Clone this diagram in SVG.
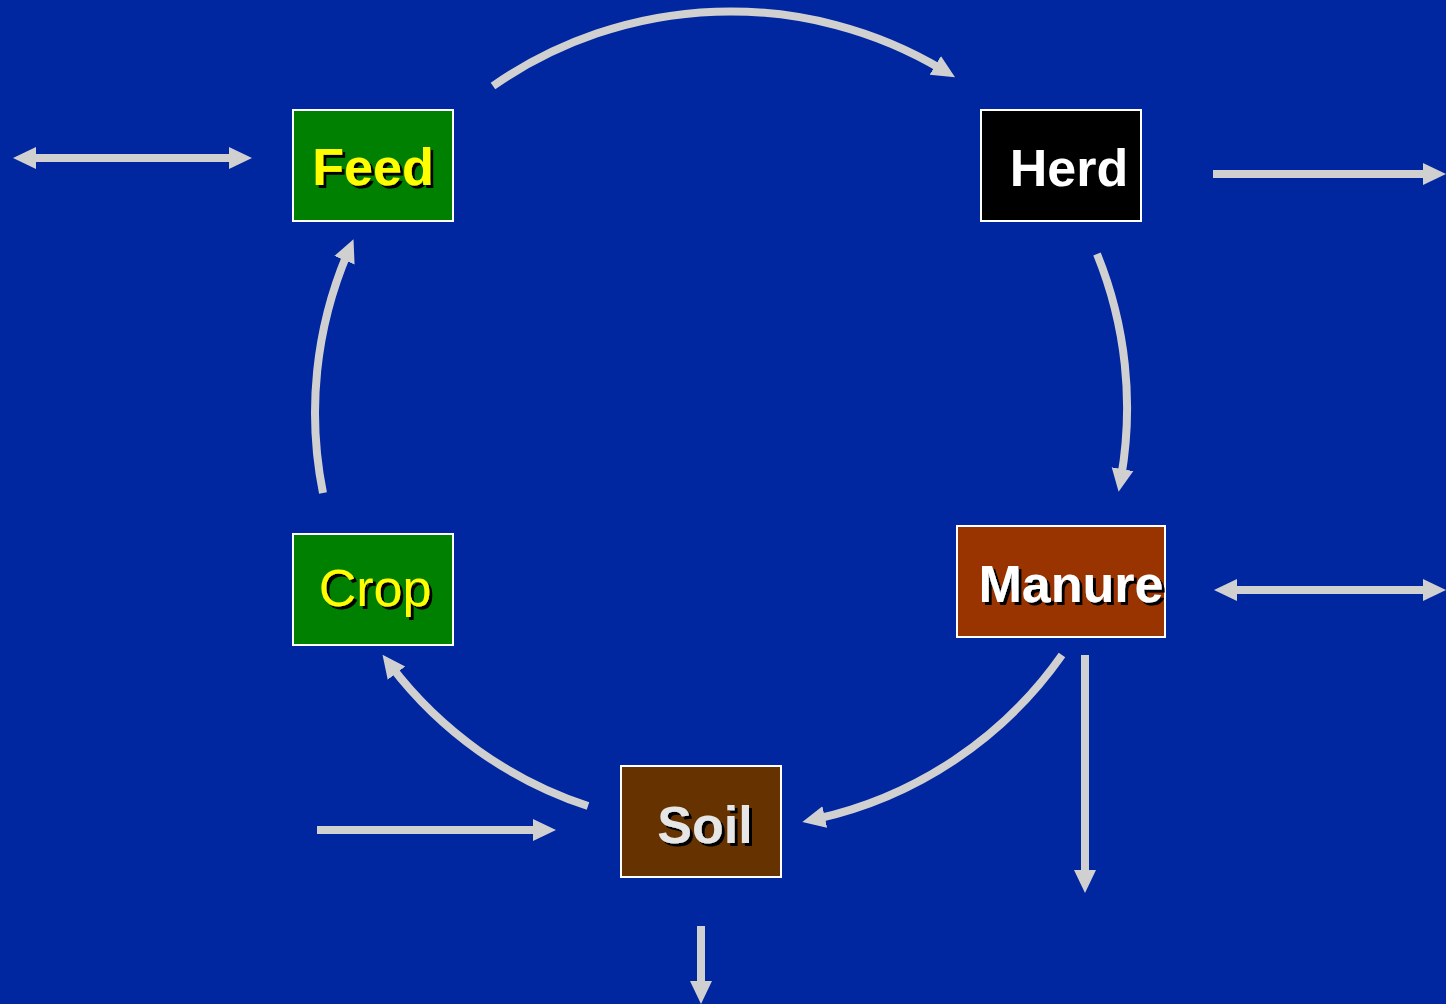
<svg xmlns="http://www.w3.org/2000/svg" width="1446" height="1004" viewBox="0 0 1446 1004">
<style>
.box{stroke:#ffffff;stroke-width:2}
.lbl{font-family:"Liberation Sans",Arial,sans-serif;font-size:52px;font-weight:bold}
.shd{filter:url(#ds)}
.con{fill:none;stroke:#d0d0d0;stroke-width:8}
</style>
<defs>
<filter id="ds" x="-10%" y="-20%" width="130%" height="150%">
<feOffset in="SourceAlpha" dx="3" dy="3" result="o"/>
<feFlood flood-color="#000000"/>
<feComposite in2="o" operator="in" result="s"/>
<feMerge><feMergeNode in="s"/><feMergeNode in="SourceGraphic"/></feMerge>
</filter>
<marker id="ah" markerUnits="userSpaceOnUse" markerWidth="24" markerHeight="24" refX="9" refY="12" orient="auto-start-reverse" viewBox="0 0 24 24">
<path d="M0,1 L23,12 L0,23 z" fill="#d0d0d0"/>
</marker>
</defs>
<rect width="1446" height="1004" fill="#0026a0"/>
<g id="connectors">
<path class="con" d="M493,86 A415,415 0 0 1 943,70" marker-end="url(#ah)"/>
<path class="con" d="M1097,254 A408,408 0 0 1 1121,478" marker-end="url(#ah)"/>
<path class="con" d="M1062,655 A408,408 0 0 1 816,819" marker-end="url(#ah)"/>
<path class="con" d="M588,806 A408,408 0 0 1 391,666" marker-end="url(#ah)"/>
<path class="con" d="M323,493 A408,408 0 0 1 348,252" marker-end="url(#ah)"/>
<path class="con" d="M27,158 L238,158" marker-start="url(#ah)" marker-end="url(#ah)"/>
<path class="con" d="M1213,174 L1432,174" marker-end="url(#ah)"/>
<path class="con" d="M1228,590 L1432,590" marker-start="url(#ah)" marker-end="url(#ah)"/>
<path class="con" d="M1085,655 L1085,879" marker-end="url(#ah)"/>
<path class="con" d="M317,830 L542,830" marker-end="url(#ah)"/>
<path class="con" d="M701,926 L701,990" marker-end="url(#ah)"/>
</g>
<g id="feed">
<rect class="box" x="293" y="110" width="160" height="111" fill="#008000"/>
<text class="lbl shd" x="373" y="185" text-anchor="middle" fill="#ffff00">Feed</text>
</g>
<g id="herd">
<rect class="box" x="981" y="110" width="160" height="111" fill="#000000"/>
<text class="lbl" x="1069" y="186" text-anchor="middle" fill="#ffffff">Herd</text>
</g>
<g id="manure">
<rect class="box" x="957" y="526" width="208" height="111" fill="#993300"/>
<text class="lbl shd" x="1071" y="602" text-anchor="middle" fill="#ffffff">Manure</text>
</g>
<g id="crop">
<rect class="box" x="293" y="534" width="160" height="111" fill="#008000"/>
<text class="lbl shd" x="375" y="606" text-anchor="middle" fill="#ffff00" style="font-weight:normal">Crop</text>
</g>
<g id="soil">
<rect class="box" x="621" y="766" width="160" height="111" fill="#663300"/>
<text class="lbl shd" x="705" y="843" text-anchor="middle" fill="#e6e6e6">Soil</text>
</g>
</svg>
